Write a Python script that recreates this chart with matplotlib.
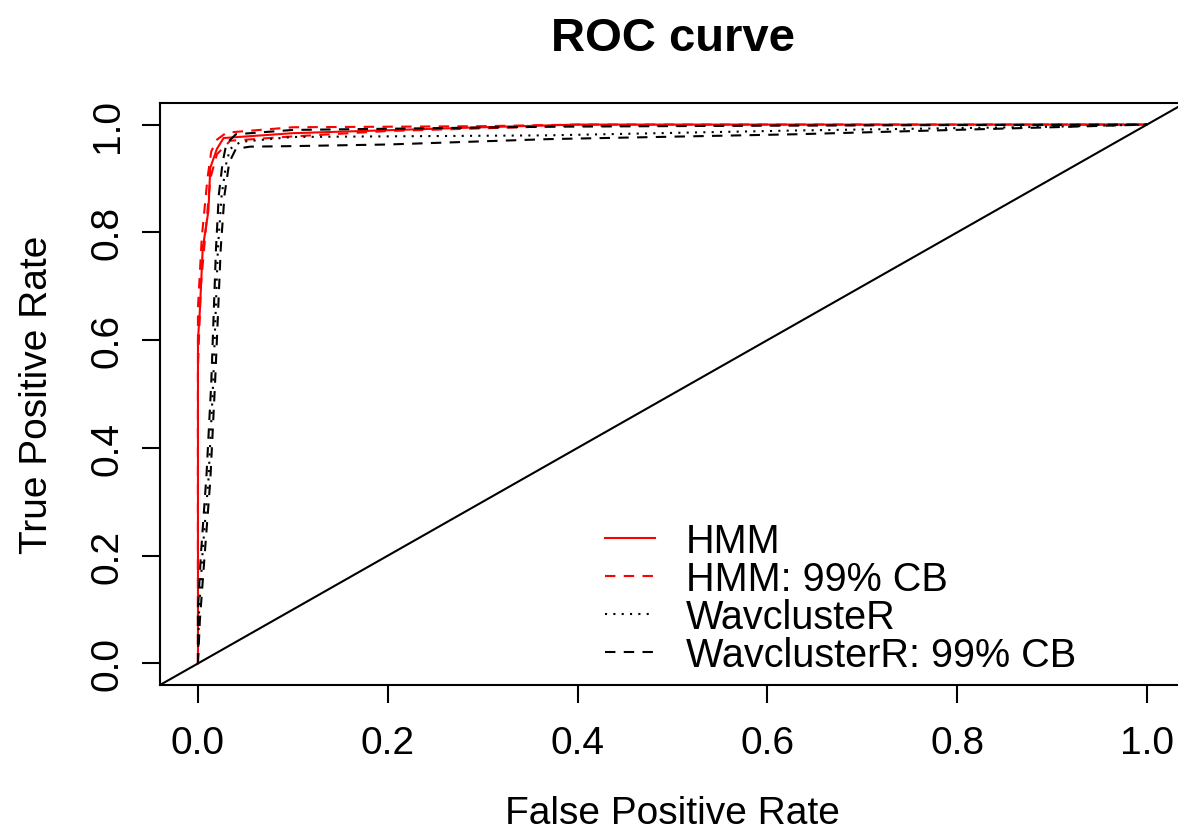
import matplotlib.pyplot as plt

plt.rcParams['font.family'] = ['Liberation Sans', 'DejaVu Sans']

# ROC curves (FPR, TPR)
hmm_fpr = [0, 0, 0.002, 0.005, 0.011, 0.013, 0.02, 0.027, 0.1, 0.3, 0.4, 1.0]
hmm_tpr = [0, 0.6, 0.655, 0.77, 0.84, 0.92, 0.955, 0.975, 0.984, 0.995, 1.0, 1.0]

hmm_hi_fpr = [0, 0, 0.004, 0.01, 0.014, 0.02, 0.03, 0.1, 0.3, 0.4, 1.0]
hmm_hi_tpr = [0, 0.66, 0.79, 0.9, 0.95, 0.972, 0.985, 0.995, 0.997, 1.0, 1.0]

hmm_lo_fpr = [0, 0, 0.003, 0.008, 0.013, 0.02, 0.034, 0.1, 0.2, 0.4, 1.0]
hmm_lo_tpr = [0, 0.55, 0.7, 0.8, 0.9, 0.945, 0.97, 0.978, 0.988, 0.998, 1.0]

wav_fpr = [0, 0.001, 0.005, 0.011, 0.016, 0.021, 0.025, 0.03, 0.034, 0.045, 0.1, 0.37, 0.63, 0.9, 1.0]
wav_tpr = [0, 0.09, 0.21, 0.34, 0.52, 0.77, 0.87, 0.93, 0.955, 0.968, 0.977, 0.98, 0.989, 0.996, 1.0]

wav_hi_fpr = [0, 0, 0.003, 0.009, 0.014, 0.019, 0.022, 0.026, 0.03, 0.04, 0.1, 0.37, 0.6, 1.0]
wav_hi_tpr = [0, 0.1, 0.2, 0.35, 0.52, 0.77, 0.87, 0.93, 0.965, 0.982, 0.99, 0.996, 0.998, 1.0]

wav_lo_fpr = [0, 0.002, 0.007, 0.013, 0.018, 0.024, 0.028, 0.033, 0.04, 0.055, 0.1, 0.2, 0.37, 0.63, 0.9, 1.0]
wav_lo_tpr = [0, 0.08, 0.2, 0.34, 0.52, 0.77, 0.87, 0.93, 0.955, 0.959, 0.96, 0.963, 0.973, 0.982, 0.995, 1.0]

ticks = [0.0, 0.2, 0.4, 0.6, 0.8, 1.0]
tick_labels = ['0.0', '0.2', '0.4', '0.6', '0.8', '1.0']

W, H = 1178, 829
fig = plt.figure(figsize=(W / 100, H / 100), dpi=100)
# plot region runs past the right edge, as in the original
ax = fig.add_axes([160 / W, 1 - 686 / H, (1185 - 160) / W, (686 - 104) / H])

lw = 1.5
dash = (5, 4)
dot = (1, 3)
ax.plot(hmm_fpr, hmm_tpr, color='red', lw=lw, label='HMM')
ax.plot(hmm_hi_fpr, hmm_hi_tpr, color='red', lw=lw, dashes=dash, label='HMM: 99% CB')
ax.plot(hmm_lo_fpr, hmm_lo_tpr, color='red', lw=lw, dashes=dash)
ax.plot(wav_fpr, wav_tpr, color='black', lw=lw, dashes=dot, label='WavclusteR')
ax.plot(wav_hi_fpr, wav_hi_tpr, color='black', lw=lw, dashes=dash, label='WavclusterR: 99% CB')
ax.plot(wav_lo_fpr, wav_lo_tpr, color='black', lw=lw, dashes=dash)
ax.axline((0, 0), (1, 1), color='black', lw=lw)

ax.set_xlim(-0.04, 1.04)
ax.set_ylim(-0.04, 1.04)
ax.set_xticks(ticks)
ax.set_xticklabels(tick_labels)
ax.set_yticks(ticks)
ax.set_yticklabels(tick_labels, rotation=90, va='center')
ax.tick_params(direction='out', length=13, width=1.5, labelsize=28)
ax.tick_params(axis='x', pad=15.5)
ax.tick_params(axis='y', pad=11.5)
for s in ax.spines.values():
    s.set_linewidth(1.5)

ax.text(0.5, (686 - 51) / 582, 'ROC curve', transform=ax.transAxes, ha='center',
        va='baseline', fontsize=34, fontweight='bold')
ax.set_xlabel('False Positive Rate', fontsize=28)
ax.xaxis.set_label_coords(0.5, (686 - 796) / 582)
ax.set_ylabel('True Positive Rate', fontsize=28)
ax.yaxis.set_label_coords((55 - 160) / 1025, 0.5)

ax.legend(loc='center left', bbox_to_anchor=((605 - 160) / 1025, (686 - 599) / 582),
          frameon=False, fontsize=28.5, handlelength=1.27, handletextpad=0.78,
          labelspacing=0.0, borderpad=0, borderaxespad=0)

fig.savefig('out.png', dpi=100)
